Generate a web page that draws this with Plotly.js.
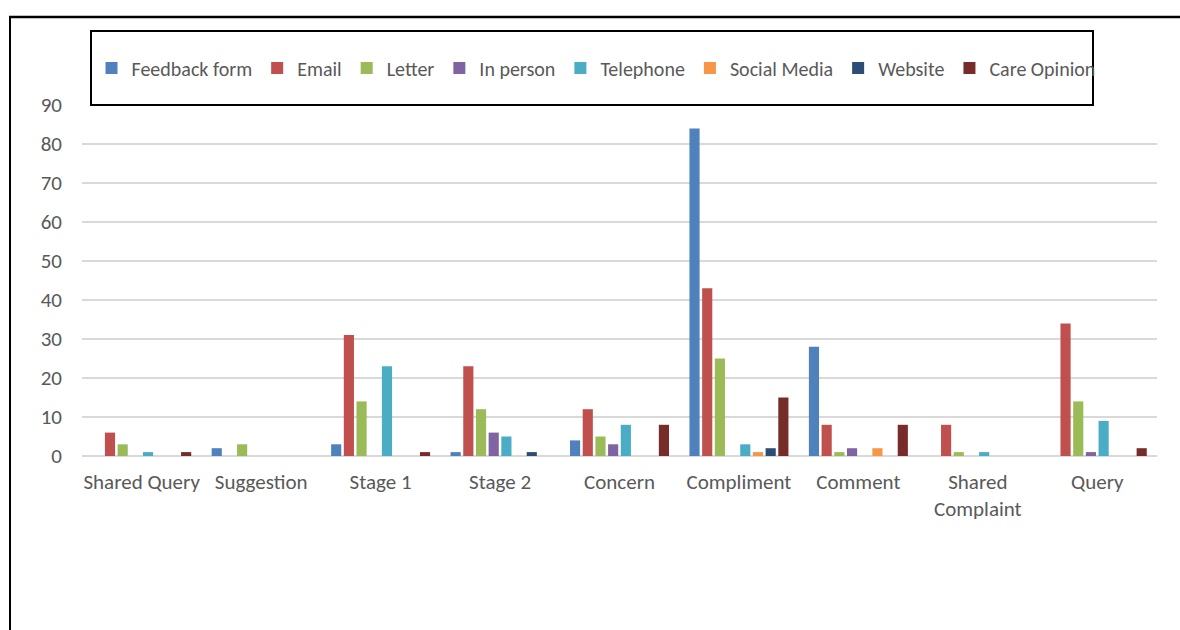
<!DOCTYPE html>
<html>
<head>
<meta charset="utf-8">
<script src="https://cdn.plot.ly/plotly-3.0.1.min.js"></script>
<style>html,body{margin:0;padding:0;background:#fff;}#chart{width:1180px;height:630px;}</style>
</head>
<body>
<div id="chart"></div>
<script>
const categories = ["Shared Query", "Suggestion", "Stage 1", "Stage 2", "Concern", "Compliment", "Comment", "Shared<br>Complaint", "Query"];
const seriesNames = ["Feedback form", "Email", "Letter", "In person", "Telephone", "Social Media", "Website", "Care Opinion"];
const feedbackForm = [0, 2, 3, 1, 4, 84, 28, 0, 0];
const email        = [6, 0, 31, 23, 12, 43, 8, 8, 34];
const letter       = [3, 3, 14, 12, 5, 25, 1, 1, 14];
const inPerson     = [0, 0, 0, 6, 3, 0, 2, 0, 1];
const telephone    = [1, 0, 23, 5, 8, 3, 0, 1, 9];
const socialMedia  = [0, 0, 0, 0, 0, 1, 2, 0, 0];
const website      = [0, 0, 0, 1, 0, 2, 0, 0, 0];
const careOpinion  = [1, 0, 1, 0, 8, 15, 8, 0, 2];
const yTicks = [0, 10, 20, 30, 40, 50, 60, 70, 80, 90];

const seriesValues = [feedbackForm, email, letter, inPerson, telephone, socialMedia, website, careOpinion];
const colors = ["#4F81BD", "#C0504D", "#9BBB59", "#8064A2", "#4BACC6", "#F79646", "#2C4D75", "#772C2A"];
const FONT = "Carlito, 'Liberation Sans Narrow', 'Open Sans', sans-serif";

const traces = seriesNames.map((name, i) => ({
  type: "bar",
  name: name,
  x: categories,
  y: seriesValues[i],
  marker: {color: colors[i], line: {color: "#ffffff", width: 0}},
  hoverinfo: "x+y+name"
}));

const L = 82, R = 1157, T = 105, B = 456;
const W = R - L, H = B - T;
const px = v => (v - L) / W;
const py = v => (B - v) / H;

const layout = {
  width: 1180, height: 630,
  margin: {l: L, r: 1180 - R, t: T, b: 630 - B, pad: 0},
  paper_bgcolor: "#ffffff",
  plot_bgcolor: "#ffffff",
  font: {family: FONT, color: "#595959", size: 21},
  barmode: "group",
  bargap: 0.15,
  bargroupgap: 0.2,
  showlegend: true,
  legend: {
    orientation: "h",
    x: px(596), xanchor: "center",
    y: py(68), yanchor: "middle",
    bgcolor: "rgba(0,0,0,0)",
    borderwidth: 0,
    font: {family: FONT, size: 20, color: "#595959"},
    itemwidth: 30,
    traceorder: "normal"
  },
  xaxis: {
    type: "category",
    showgrid: false,
    showline: false,
    ticks: "",
    ticklabelstandoff: 11,
    tickfont: {family: FONT, size: 21, color: "#595959"},
    fixedrange: true
  },
  yaxis: {
    range: [0, 90],
    tickvals: yTicks,
    ticktext: yTicks.map(String),
    showgrid: true,
    gridcolor: "#D9D9D9",
    gridwidth: 2,
    zeroline: true,
    zerolinecolor: "#D9D9D9",
    zerolinewidth: 2,
    showline: false,
    ticks: "",
    ticklabelstandoff: 19,
    tickfont: {family: FONT, size: 21, color: "#595959"},
    fixedrange: true
  },
  shapes: [
    {type: "rect", xref: "paper", yref: "paper", x0: px(91), x1: px(1093), y0: py(105), y1: py(31),
     line: {color: "#000000", width: 2}, fillcolor: "rgba(0,0,0,0)", layer: "above"},
    {type: "line", xref: "paper", yref: "paper", x0: px(9), x1: px(1185), y0: py(17), y1: py(17),
     line: {color: "#000000", width: 2.5}},
    {type: "line", xref: "paper", yref: "paper", x0: px(10), x1: px(10), y0: py(17), y1: py(640),
     line: {color: "#000000", width: 2}}
  ]
};

Plotly.newPlot("chart", traces, layout, {displayModeBar: false, staticPlot: true});
</script>
</body>
</html>
